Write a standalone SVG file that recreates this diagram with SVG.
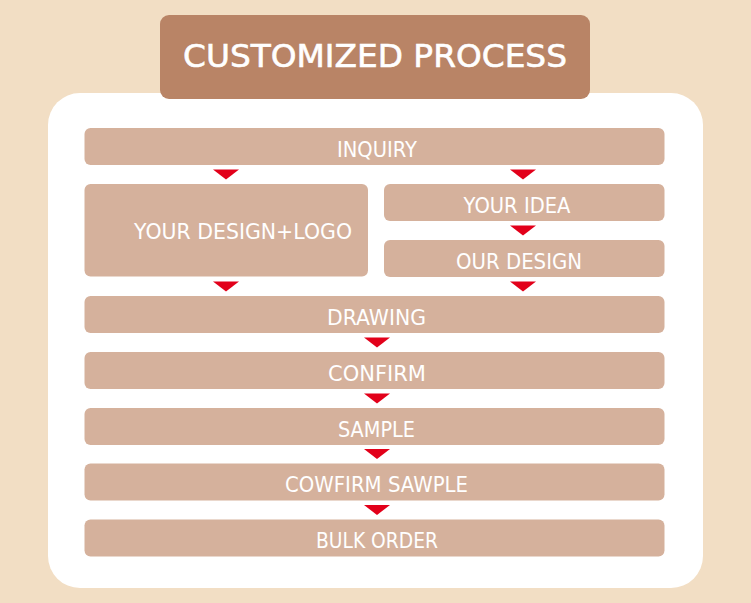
<svg xmlns="http://www.w3.org/2000/svg" width="751" height="603" viewBox="0 0 751 603">
<style>
.box{fill:#d5b19c}
.lbl{fill:#ffffff;font-family:"DejaVu Sans","Liberation Sans",sans-serif;font-size:20.5px;text-anchor:middle}
.arr{fill:#e2001a}
.title{fill:#ffffff;stroke:#ffffff;stroke-width:0.6;font-family:"DejaVu Sans","Liberation Sans",sans-serif;font-size:31.5px;text-anchor:middle}
</style>
<rect x="0" y="0" width="751" height="603" fill="#f2dec4"/>
<rect x="48" y="93" width="655" height="495" rx="32" fill="#ffffff"/>
<g id="title">
<rect x="160" y="15" width="430" height="84" rx="9" fill="#b98466"/>
<text class="title" x="375" y="67" textLength="384" lengthAdjust="spacingAndGlyphs">CUSTOMIZED PROCESS</text>
</g>
<g id="connectors">
<polygon class="arr" points="213,169.5 239,169.5 226,179.5"/>
<polygon class="arr" points="510,169.5 536,169.5 523,179.5"/>
<polygon class="arr" points="510,225.5 536,225.5 523,235.5"/>
<polygon class="arr" points="213,281.5 239,281.5 226,291.5"/>
<polygon class="arr" points="510,281.5 536,281.5 523,291.5"/>
<polygon class="arr" points="364,337.5 390,337.5 377,347.5"/>
<polygon class="arr" points="364,393.5 390,393.5 377,403.5"/>
<polygon class="arr" points="364,449 390,449 377,459"/>
<polygon class="arr" points="364,505 390,505 377,515"/>
</g>
<g id="inquiry">
<rect class="box" x="84.5" y="128" width="580" height="37" rx="6"/>
<text class="lbl" x="377" y="156.5" textLength="80" lengthAdjust="spacingAndGlyphs">INQUIRY</text>
</g>
<g id="your-design-logo">
<rect class="box" x="84.5" y="184" width="283.5" height="92.5" rx="6"/>
<text class="lbl" x="243" y="238.5" textLength="218" lengthAdjust="spacingAndGlyphs">YOUR DESIGN+LOGO</text>
</g>
<g id="your-idea">
<rect class="box" x="384" y="184" width="280.5" height="37" rx="6"/>
<text class="lbl" x="517" y="212.5" textLength="107" lengthAdjust="spacingAndGlyphs">YOUR IDEA</text>
</g>
<g id="our-design">
<rect class="box" x="384" y="240" width="280.5" height="37" rx="6"/>
<text class="lbl" x="519" y="268.5" textLength="126" lengthAdjust="spacingAndGlyphs">OUR DESIGN</text>
</g>
<g id="drawing">
<rect class="box" x="84.5" y="296" width="580" height="37" rx="6"/>
<text class="lbl" x="376.5" y="324.5" textLength="99" lengthAdjust="spacingAndGlyphs">DRAWING</text>
</g>
<g id="confirm">
<rect class="box" x="84.5" y="352" width="580" height="37" rx="6"/>
<text class="lbl" x="377" y="380.5" textLength="98" lengthAdjust="spacingAndGlyphs">CONFIRM</text>
</g>
<g id="sample">
<rect class="box" x="84.5" y="408" width="580" height="37" rx="6"/>
<text class="lbl" x="376.5" y="436.5" textLength="77" lengthAdjust="spacingAndGlyphs">SAMPLE</text>
</g>
<g id="cowfirm-sawple">
<rect class="box" x="84.5" y="463.5" width="580" height="37" rx="6"/>
<text class="lbl" x="376.5" y="492" textLength="183" lengthAdjust="spacingAndGlyphs">COWFIRM SAWPLE</text>
</g>
<g id="bulk-order">
<rect class="box" x="84.5" y="519.5" width="580" height="37" rx="6"/>
<text class="lbl" x="377" y="548" textLength="122" lengthAdjust="spacingAndGlyphs">BULK ORDER</text>
</g>
</svg>
